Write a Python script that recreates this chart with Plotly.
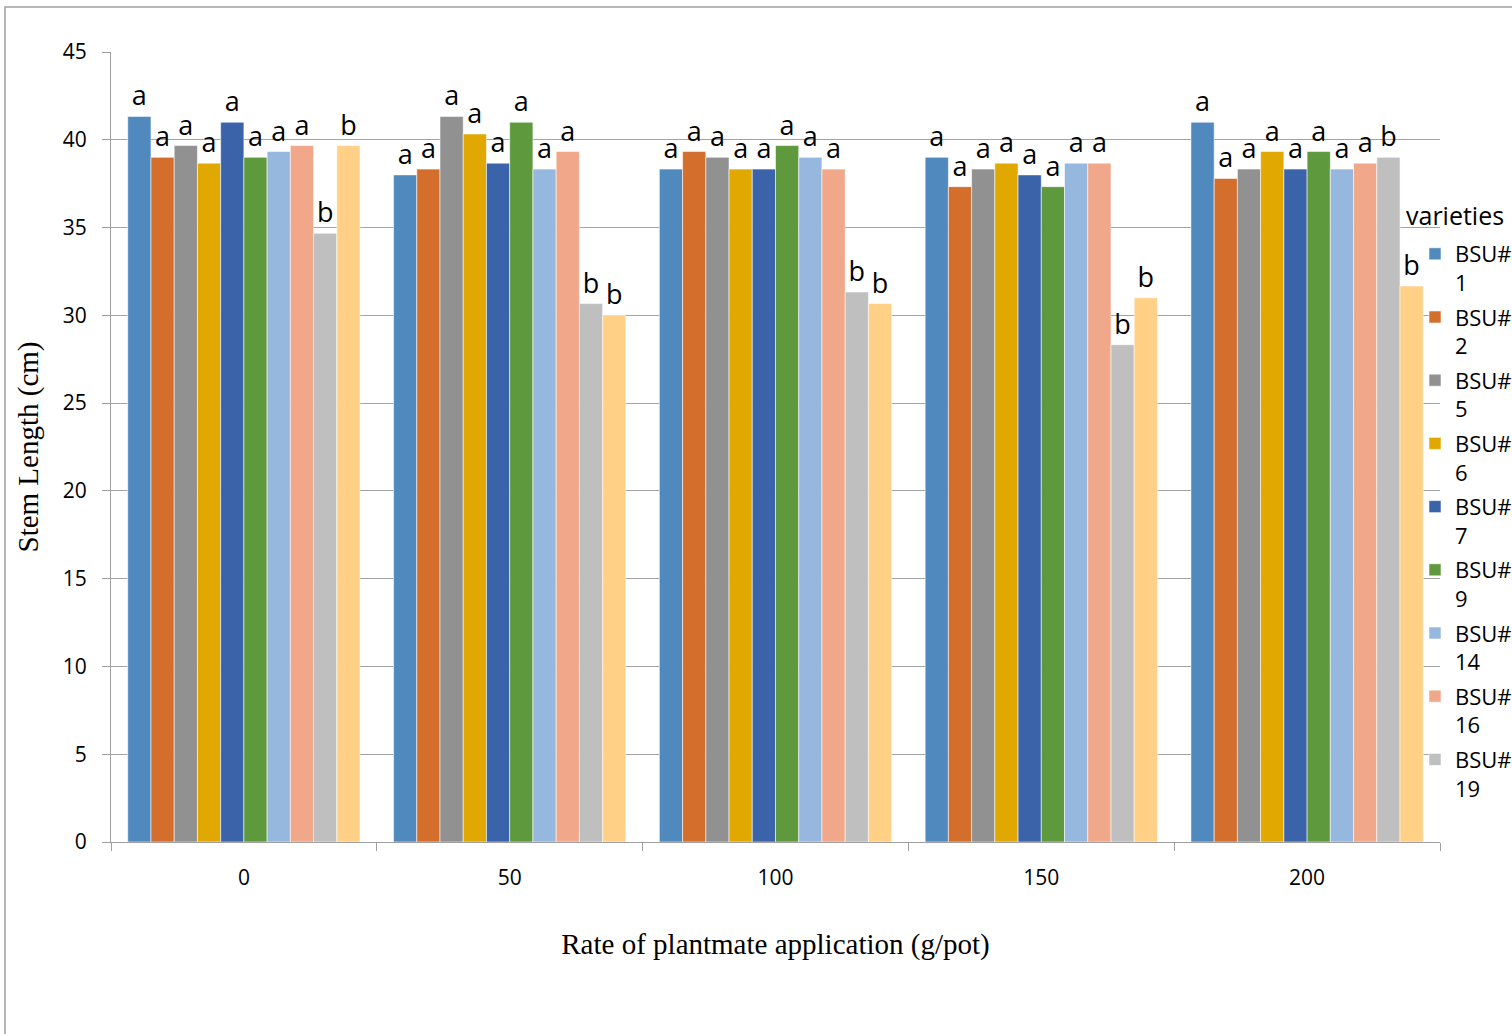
import plotly.graph_objects as go

rates = ["0", "50", "100", "150", "200"]

varieties = ["BSU#<br>1", "BSU#<br>2", "BSU#<br>5", "BSU#<br>6", "BSU#<br>7",
             "BSU#<br>9", "BSU#<br>14", "BSU#<br>16", "BSU#<br>19", "variety 10"]
show_in_legend = [True, True, True, True, True, True, True, True, True, False]

bsu1 = [41.33, 38.0, 38.33, 39.0, 41.0]
bsu2 = [39.0, 38.33, 39.33, 37.33, 37.8]
bsu5 = [39.67, 41.33, 39.0, 38.33, 38.33]
bsu6 = [38.67, 40.33, 38.33, 38.67, 39.33]
bsu7 = [41.0, 38.67, 38.33, 38.0, 38.33]
bsu9 = [39.0, 41.0, 39.67, 37.33, 39.33]
bsu14 = [39.33, 38.33, 39.0, 38.67, 38.33]
bsu16 = [39.67, 39.33, 38.33, 38.67, 38.67]
bsu19 = [34.67, 30.67, 31.33, 28.33, 39.0]
var10 = [39.67, 30.0, 30.67, 31.0, 31.67]

lbl1 = ["a", "a", "a", "a", "a"]
lbl2 = ["a", "a", "a", "a", "a"]
lbl5 = ["a", "a", "a", "a", "a"]
lbl6 = ["a", "a", "a", "a", "a"]
lbl7 = ["a", "a", "a", "a", "a"]
lbl9 = ["a", "a", "a", "a", "a"]
lbl14 = ["a", "a", "a", "a", "a"]
lbl16 = ["a", "a", "a", "a", "a"]
lbl19 = ["b", "b", "b", "b", "b"]
lbl10 = ["b", "b", "b", "b", "b"]

series = [bsu1, bsu2, bsu5, bsu6, bsu7, bsu9, bsu14, bsu16, bsu19, var10]
labels = [lbl1, lbl2, lbl5, lbl6, lbl7, lbl9, lbl14, lbl16, lbl19, lbl10]
colors = ["#4F89BD", "#D46E2C", "#919191", "#E0A800", "#3A63AA",
          "#5E993E", "#97B8DE", "#F0A78A", "#BFBFBF", "#FFD086"]

yticks = [0, 5, 10, 15, 20, 25, 30, 35, 40, 45]

fig = go.Figure()
for name, vals, txt, col, sl in zip(varieties, series, labels, colors, show_in_legend):
    fig.add_trace(go.Bar(
        x=rates, y=vals, name=name, text=txt,
        textposition="outside", cliponaxis=False, constraintext="none",
        textfont=dict(family="Open Sans", size=27, color="black"),
        marker=dict(color=col, line=dict(color="rgba(255,255,255,0.55)", width=1)),
        showlegend=sl, legendgroup=name,
    ))

L, R, T, B = 111, 1440, 52, 842
W, H = 1512, 1034
pw, ph = R - L, B - T

def px(xp):
    return (xp - L) / pw

def py(yp):
    return (B - yp) / ph

fig.update_layout(
    width=W, height=H,
    margin=dict(l=L, r=W - R, t=T, b=H - B, autoexpand=False),
    paper_bgcolor="white", plot_bgcolor="white",
    barmode="group", bargap=0.126, bargroupgap=0,
    font=dict(family="Open Sans", color="black"),
    showlegend=True,
    legend=dict(
        x=px(1415), y=py(233), xanchor="left", yanchor="top",
        font=dict(family="Open Sans", size=22, color="black"),
        valign="top", tracegroupgap=3, bgcolor="rgba(0,0,0,0)",
        itemclick=False,
    ),
    xaxis=dict(
        type="category", showgrid=False, showline=True, linecolor="#9F9F9F", linewidth=1,
        ticks="outside", tickson="boundaries", ticklen=8, tickcolor="#9F9F9F",
        tickfont=dict(family="Open Sans", size=21, color="black"),
        ticklabelstandoff=17,
        title=dict(text="Rate of plantmate application (g/pot)",
                   font=dict(family="Liberation Serif", size=29, color="black"),
                   standoff=43),
    ),
    yaxis=dict(
        range=[0, 45], tickvals=yticks, showgrid=True, gridcolor="#A3A3A3", gridwidth=1,
        zeroline=False, showline=True, linecolor="#9F9F9F", linewidth=1,
        ticks="outside", ticklen=8, tickcolor="#9F9F9F",
        tickfont=dict(family="Open Sans", size=21, color="black"),
        ticklabelstandoff=11,
        title=dict(text="Stem Length (cm)",
                   font=dict(family="Liberation Serif", size=29, color="black"),
                   standoff=15),
    ),
    annotations=[dict(
        text="varieties", xref="paper", yref="paper", x=px(1404), y=py(215),
        xanchor="left", yanchor="middle", showarrow=False,
        font=dict(family="Open Sans", size=25, color="black"),
    )],
    shapes=[dict(
        type="rect", xref="paper", yref="paper",
        x0=px(5), x1=px(1530), y0=py(1050), y1=py(7),
        line=dict(color="#A0A0A0", width=1.5), fillcolor="rgba(0,0,0,0)", layer="below",
    )],
)

fig.write_html("out.html", config={"displayModeBar": False},
               post_script="document.body.style.margin='0px';")
